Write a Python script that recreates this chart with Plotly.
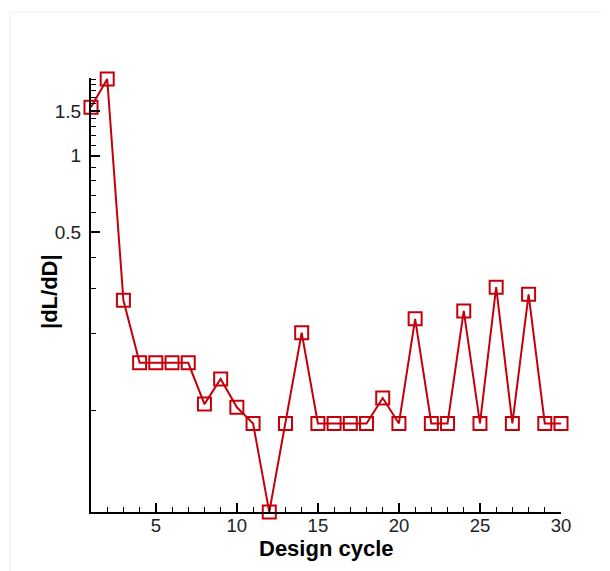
import plotly.graph_objects as go

cycles = list(range(1, 31))
dL_dD = [1.55, 2.0, 0.271, 0.154, 0.154, 0.154, 0.154, 0.106, 0.133, 0.103,
         0.089, 0.040, 0.089, 0.202, 0.089, 0.089, 0.089, 0.089, 0.112, 0.089,
         0.229, 0.089, 0.089, 0.246, 0.089, 0.305, 0.089, 0.286, 0.089, 0.089]

x_major = [5, 10, 15, 20, 25, 30]
x_minor = [v for v in range(1, 31) if v not in x_major]
y_major = [0.5, 1, 1.5]
y_major_text = ["0.5", "1", "1.5"]
y_minor = [0.1, 0.2, 0.3, 0.4, 0.6, 0.7, 0.8, 0.9, 1.1, 1.2, 1.3, 1.4,
           1.6, 1.7, 1.8, 1.9, 2.0]

red = "#c4000a"

fig = go.Figure()
fig.add_trace(go.Scatter(
    x=cycles, y=dL_dD, mode="lines+markers",
    line=dict(color=red, width=2),
    marker=dict(symbol="square-open", size=13, color=red, line=dict(width=2, color=red)),
    cliponaxis=False, showlegend=False,
))

font_family = "Liberation Sans, Arial, sans-serif"

fig.update_layout(
    width=602, height=563,
    margin=dict(l=83, r=49, t=70, b=59, autoexpand=False),
    paper_bgcolor="white", plot_bgcolor="white",
    font=dict(family=font_family, color="#222"),
    xaxis=dict(
        range=[1, 30], tickmode="array", tickvals=x_major,
        ticks="inside", ticklen=9, tickwidth=2, tickcolor="black",
        showline=True, linecolor="black", linewidth=2, mirror=False,
        showgrid=False, zeroline=False, ticklabelstandoff=-4,
        tickfont=dict(size=18.5, color="#222"),
        minor=dict(tickmode="array", tickvals=x_minor, ticks="inside",
                   ticklen=5, tickwidth=1, tickcolor="black", showgrid=False),
    ),
    yaxis=dict(
        type="log", range=[-1.398, 0.305],
        tickmode="array", tickvals=y_major, ticktext=y_major_text,
        ticks="inside", ticklen=9, tickwidth=2, tickcolor="black",
        showline=True, linecolor="black", linewidth=2, mirror=False,
        showgrid=False, zeroline=False, ticklabelstandoff=4,
        tickfont=dict(size=19, color="#222"),
        minor=dict(tickmode="array", tickvals=y_minor, ticks="inside",
                   ticklen=5, tickwidth=1, tickcolor="black", showgrid=False),
    ),
    annotations=[
        dict(text="<b>Design cycle</b>", xref="paper", yref="paper", x=0.5, y=-0.083,
             xanchor="center", yanchor="middle", showarrow=False,
             font=dict(size=22, color="black")),
        dict(text="<b>|dL/dD|</b>", xref="paper", yref="paper", x=-0.0872, y=0.507,
             xanchor="center", yanchor="middle", showarrow=False, textangle=-90,
             font=dict(size=22, color="black")),
    ],
    shapes=[
        dict(type="line", xref="paper", yref="paper", x0=-0.1723, x1=-0.1723,
             y0=1.152, y1=-0.136, line=dict(color="#efefef", width=1)),
        dict(type="line", xref="paper", yref="paper", x0=-0.1723, x1=1.1787,
             y0=1.152, y1=1.152, line=dict(color="#f3f3f3", width=1)),
    ],
)

fig.write_html("out.html")
